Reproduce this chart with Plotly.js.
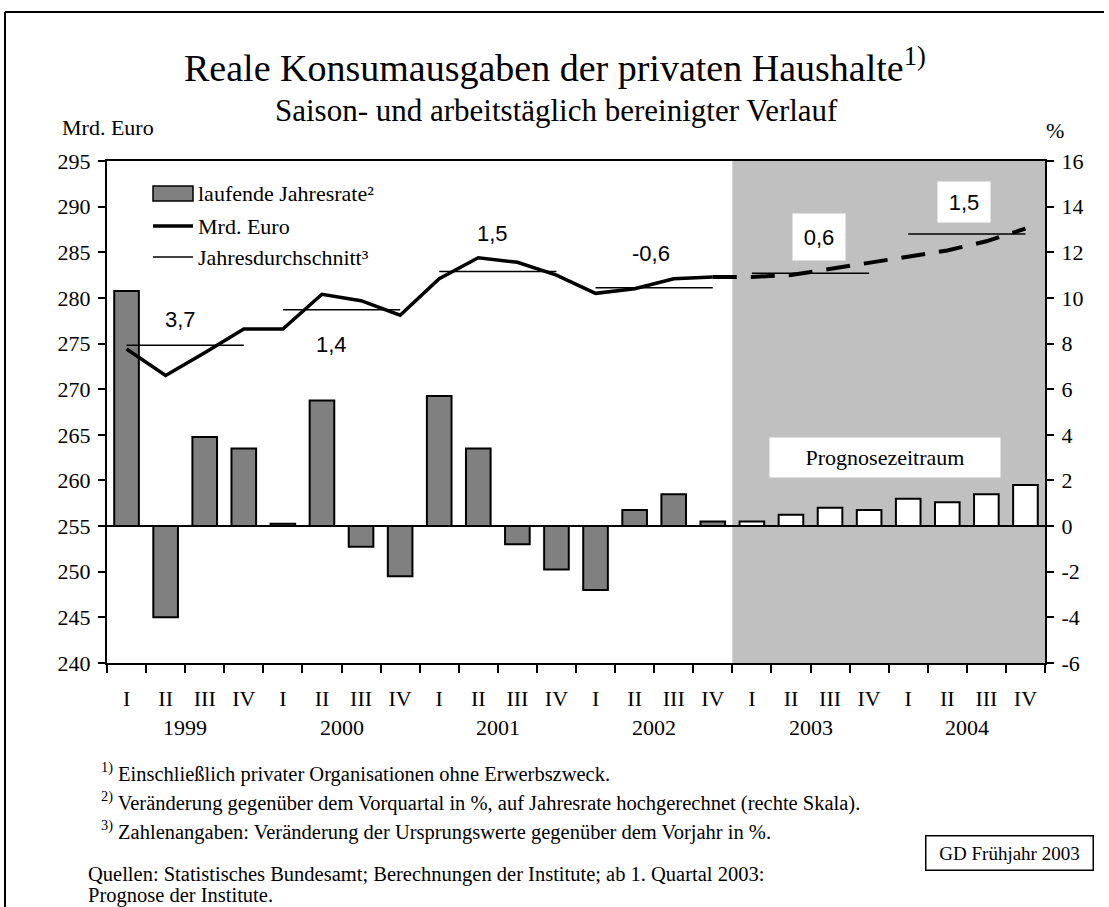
<!DOCTYPE html>
<html>
<head>
<meta charset="utf-8">
<script src="https://cdn.plot.ly/plotly-3.0.1.min.js"></script>
<style>html,body{margin:0;padding:0;background:#fff;}#chart{width:1109px;height:907px;}</style>
</head>
<body>
<div id="chart"></div>
<script>
// ---- data ----
const quarterLabels = ['I','II','III','IV','I','II','III','IV','I','II','III','IV','I','II','III','IV','I','II','III','IV','I','II','III','IV'];
const yearLabels = ['1999','2000','2001','2002','2003','2004'];
// laufende Jahresrate (%), right axis
const rateActual = [10.3, -4.0, 3.9, 3.4, 0.1, 5.5, -0.9, -2.2, 5.7, 3.4, -0.8, -1.9, -2.8, 0.7, 1.4, 0.2];
const rateForecast = [0.2, 0.5, 0.8, 0.7, 1.2, 1.05, 1.4, 1.8];
// Mrd. Euro, left axis
const levelActual = [274.4, 271.5, 274.0, 276.6, 276.6, 280.4, 279.7, 278.1, 282.1, 284.4, 283.9, 282.5, 280.5, 281.0, 282.1, 282.3];
const levelForecast = [282.3, 282.3, 282.5, 283.2, 283.8, 284.5, 285.2, 286.2, 287.6]; // from 2002 IV
// Jahresdurchschnitt (Mrd. Euro) and change vs previous year (%)
const yearAverage = [274.8, 278.7, 282.9, 281.1, 282.7, 287.0];
const yearChange = ['3,7', '1,4', '1,5', '-0,6', '0,6', '1,5'];

// ---- geometry helpers (pixel -> paper) ----
const L = 107, R = 1045, T = 161, B = 663;
const W = R - L, H = B - T;
const px = x => (x - L) / W;
const py = y => (B - y) / H;

const serif = '"Liberation Serif", "Times New Roman", serif';
const sans = '"Liberation Sans", Arial, sans-serif';

const idx = n => Array.from({length: n}, (_, i) => i);

const traces = [];
traces.push({
  type: 'bar', x: idx(rateActual.length), y: rateActual, yaxis: 'y', xaxis: 'x',
  width: 0.63, marker: {color: '#808080', line: {color: '#000', width: 2}},
  showlegend: false, hoverinfo: 'skip'
});
traces.push({
  type: 'bar', x: idx(rateForecast.length).map(i => i + rateActual.length), y: rateForecast, yaxis: 'y', xaxis: 'x',
  width: 0.63, marker: {color: '#ffffff', line: {color: '#000', width: 2}},
  showlegend: false, hoverinfo: 'skip'
});
// year average lines
yearAverage.forEach((v, k) => {
  traces.push({
    type: 'scatter', mode: 'lines', x: [4 * k, 4 * k + 3], y: [v, v], yaxis: 'y2', xaxis: 'x',
    line: {color: '#000', width: 1.5}, showlegend: false, hoverinfo: 'skip'
  });
});
traces.push({
  type: 'scatter', mode: 'lines', x: idx(levelActual.length), y: levelActual, yaxis: 'y2', xaxis: 'x',
  line: {color: '#000', width: 3.5}, showlegend: false, hoverinfo: 'skip'
});
traces.push({
  type: 'scatter', mode: 'lines', x: idx(levelForecast.length).map(i => i + levelActual.length - 1), y: levelForecast, yaxis: 'y2', xaxis: 'x',
  line: {color: '#000', width: 4, dash: '24px,14px'}, showlegend: false, hoverinfo: 'skip'
});

const annotations = [];
// year labels
yearLabels.forEach((y, k) => {
  annotations.push({xref: 'x', yref: 'paper', x: 4 * k + 1.5, y: py(728), text: y, showarrow: false,
    xanchor: 'center', yanchor: 'middle', font: {family: serif, size: 22, color: '#000'}});
});
// change labels
const chgPos = [[1.37, 277.6, false], [5.25, 274.9, false], [9.36, 287.1, false], [13.43, 284.9, false], [17.72, 286.7, true], [21.43, 290.5, true]];
yearChange.forEach((t, k) => {
  const p = chgPos[k];
  const a = {xref: 'x', yref: 'y2', x: p[0], y: p[1], text: t, showarrow: false,
    xanchor: 'center', yanchor: 'middle', font: {family: sans, size: 22, color: '#000'}};
  if (p[2]) { a.bgcolor = '#fff'; a.width = 50; a.height = k === 4 ? 44 : 38; }
  annotations.push(a);
});
// Prognosezeitraum
annotations.push({xref: 'paper', yref: 'paper', x: px(885), y: py(458), text: 'Prognosezeitraum', showarrow: false,
  xanchor: 'center', yanchor: 'middle', bgcolor: '#fff', width: 228, height: 37,
  font: {family: serif, size: 22, color: '#000'}});
// Legend (manual)
const legendItems = [['laufende Jahresrate²', 193], ['Mrd. Euro', 226], ['Jahresdurchschnitt³', 257]];
legendItems.forEach(it => {
  annotations.push({xref: 'paper', yref: 'paper', x: px(196), y: py(it[1]), text: it[0], showarrow: false,
    xanchor: 'left', yanchor: 'middle', font: {family: serif, size: 22, color: '#000'}});
});
// titles
annotations.push({xref: 'paper', yref: 'paper', x: px(555), y: py(65), text: 'Reale Konsumausgaben der privaten Haushalte<sup>1)</sup>', showarrow: false,
  xanchor: 'center', yanchor: 'middle', font: {family: serif, size: 38, color: '#000'}});
annotations.push({xref: 'paper', yref: 'paper', x: px(556), y: py(110), text: 'Saison- und arbeitstäglich bereinigter Verlauf', showarrow: false,
  xanchor: 'center', yanchor: 'middle', font: {family: serif, size: 31, color: '#000'}});
annotations.push({xref: 'paper', yref: 'paper', x: px(60), y: py(127), text: 'Mrd. Euro', showarrow: false,
  xanchor: 'left', yanchor: 'middle', font: {family: serif, size: 22, color: '#000'}});
annotations.push({xref: 'paper', yref: 'paper', x: px(1055), y: py(130), text: '%', showarrow: false,
  xanchor: 'center', yanchor: 'middle', font: {family: serif, size: 22, color: '#000'}});
// footnotes
const notes = [
  [99, 772, '<sup>1)</sup> Einschließlich privater Organisationen ohne Erwerbszweck.'],
  [99, 801, '<sup>2)</sup> Veränderung gegenüber dem Vorquartal in %, auf Jahresrate hochgerechnet (rechte Skala).'],
  [99, 830, '<sup>3)</sup> Zahlenangaben: Veränderung der Ursprungswerte gegenüber dem Vorjahr in %.'],
  [86, 874, 'Quellen: Statistisches Bundesamt; Berechnungen der Institute; ab 1. Quartal 2003:'],
  [86, 895, 'Prognose der Institute.']
];
notes.forEach(n => {
  annotations.push({xref: 'paper', yref: 'paper', x: px(n[0]), y: py(n[1]), text: n[2], showarrow: false,
    xanchor: 'left', yanchor: 'middle', font: {family: serif, size: 20.5, color: '#000'}});
});
annotations.push({xref: 'paper', yref: 'paper', x: px(1009), y: py(853), text: 'GD Frühjahr 2003', showarrow: false,
  xanchor: 'center', yanchor: 'middle', bordercolor: '#000', borderwidth: 1.5, width: 164, height: 31, bgcolor: '#fff',
  font: {family: serif, size: 19, color: '#000'}});

const shapes = [
  // forecast shading
  {type: 'rect', xref: 'x', yref: 'paper', x0: 15.5, x1: 23.5, y0: 0, y1: 1, fillcolor: '#c0c0c0', line: {width: 0}, layer: 'below'},
  // legend swatches
  {type: 'rect', xref: 'paper', yref: 'paper', x0: px(153), x1: px(193), y0: py(201), y1: py(186), fillcolor: '#808080', line: {color: '#000', width: 1.5}},
  {type: 'line', xref: 'paper', yref: 'paper', x0: px(153), x1: px(193), y0: py(226), y1: py(226), line: {color: '#000', width: 3.5}},
  {type: 'line', xref: 'paper', yref: 'paper', x0: px(153), x1: px(193), y0: py(257), y1: py(257), line: {color: '#000', width: 1.5}},
  // outer frame
  {type: 'line', xref: 'paper', yref: 'paper', x0: px(5), x1: px(1104), y0: py(12), y1: py(12), line: {color: '#000', width: 2}},
  {type: 'line', xref: 'paper', yref: 'paper', x0: px(5), x1: px(5), y0: py(12), y1: py(910), line: {color: '#000', width: 2}}
];

const rightVals = [-6, -4, -2, 0, 2, 4, 6, 8, 10, 12, 14, 16];
const layout = {
  width: 1109, height: 907,
  margin: {l: L, r: 1109 - R, t: T, b: 907 - B, pad: 0},
  paper_bgcolor: '#fff', plot_bgcolor: 'rgba(0,0,0,0)',
  showlegend: false, barmode: 'overlay',
  xaxis: {
    range: [-0.5, 23.5], tickmode: 'array', tickvals: idx(24), ticktext: quarterLabels,
    ticks: '', showgrid: false, zeroline: false, showline: true, linecolor: '#000', linewidth: 2, mirror: true,
    tickfont: {family: serif, size: 22, color: '#000'}, ticklabelstandoff: 15,
    minor: {ticks: 'outside', tickmode: 'linear', tick0: -0.5, dtick: 1, ticklen: 8, tickwidth: 2, tickcolor: '#000', showgrid: false}
  },
  yaxis: {
    range: [-6, 16], side: 'right', tickmode: 'array', tickvals: rightVals, ticktext: rightVals.map(String),
    ticks: 'outside', ticklen: 7, tickwidth: 2, tickcolor: '#000', showline: true, linecolor: '#000', linewidth: 2,
    showgrid: false, zeroline: true, zerolinecolor: '#000', zerolinewidth: 2,
    tickfont: {family: serif, size: 22, color: '#000'}, ticklabelstandoff: 3
  },
  yaxis2: {
    range: [240, 295], overlaying: 'y', side: 'left', tickmode: 'linear', tick0: 240, dtick: 5,
    ticks: 'outside', ticklen: 7, tickwidth: 2, tickcolor: '#000', showline: true, linecolor: '#000', linewidth: 2,
    showgrid: false, zeroline: false, tickfont: {family: serif, size: 22, color: '#000'}, ticklabelstandoff: 3
  },
  annotations: annotations,
  shapes: shapes
};

Plotly.newPlot('chart', traces, layout, {staticPlot: true, displayModeBar: false});
</script>
</body>
</html>
